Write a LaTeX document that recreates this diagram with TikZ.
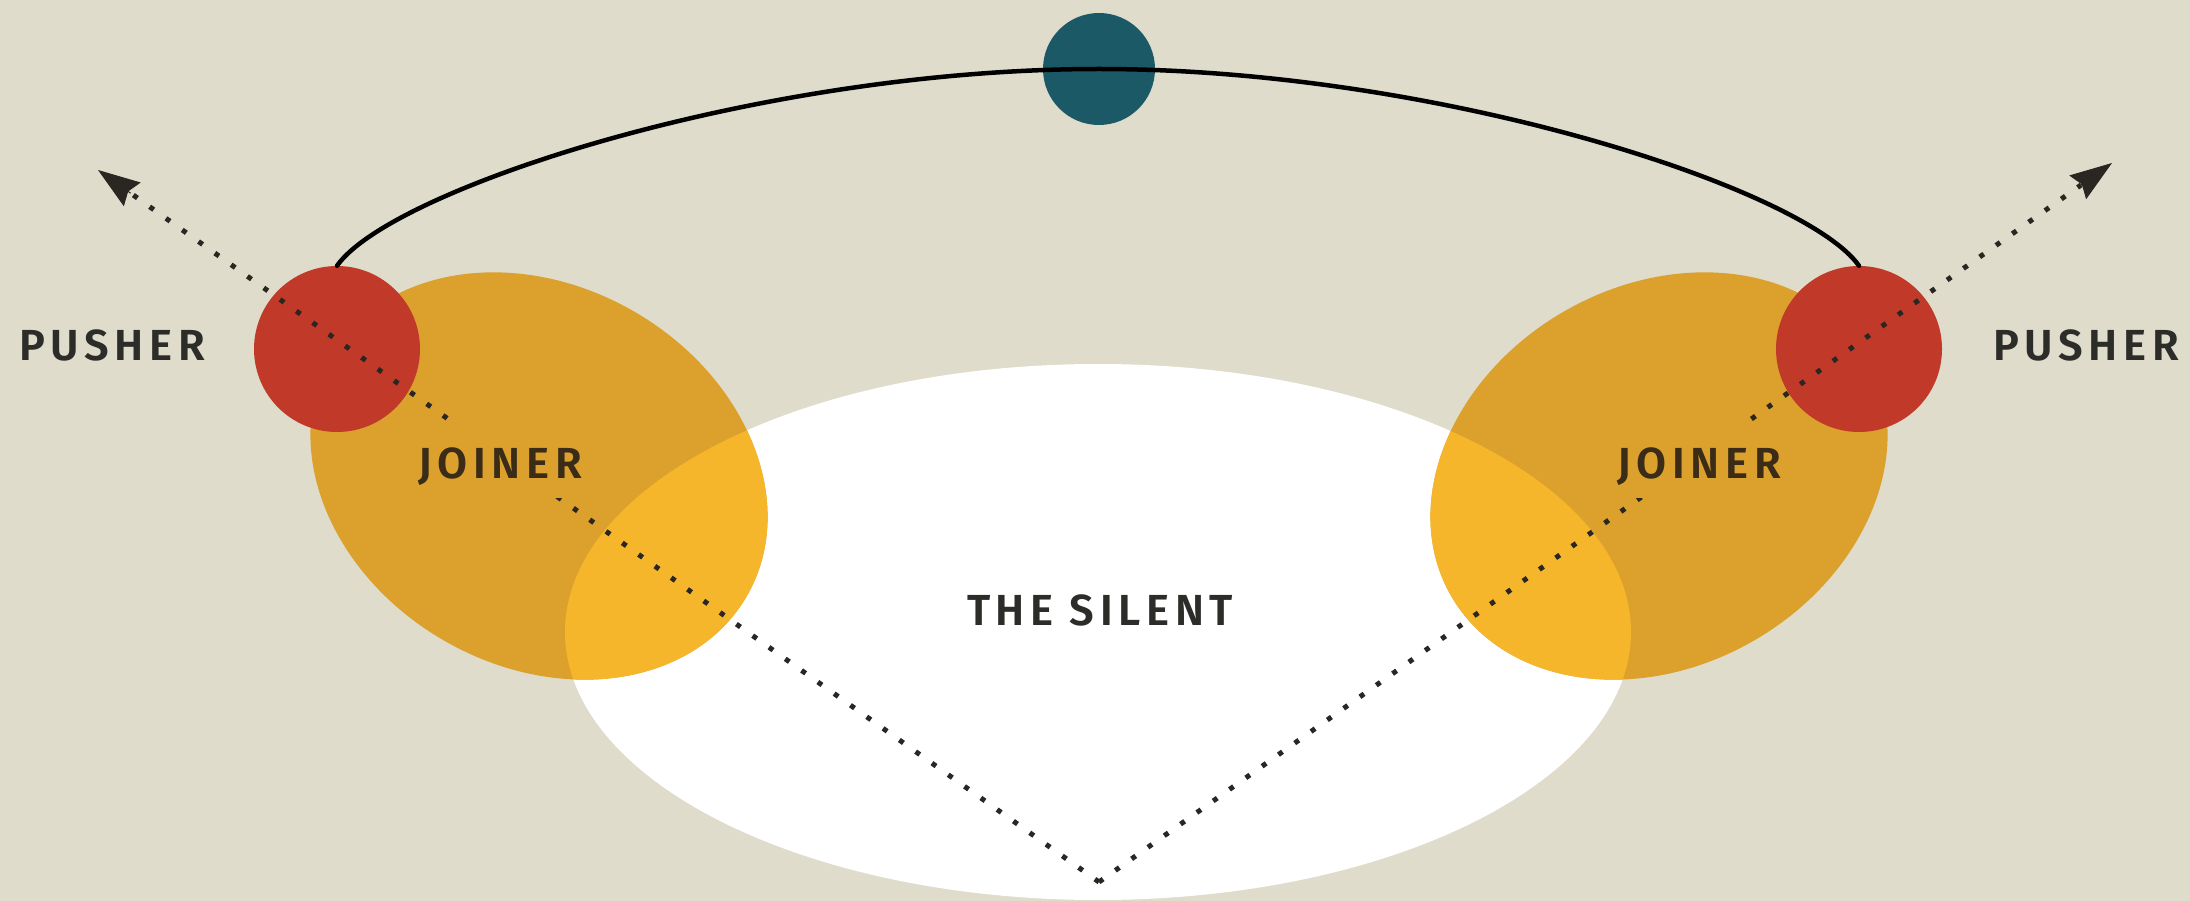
\documentclass[tikz,border=0pt]{standalone}
\usepackage{fontspec}
\setmainfont{Fira Sans}
\newfontfamily\lblfont[LetterSpace=13, BoldFont={Fira Sans SemiBold}]{Fira Sans}
\usetikzlibrary{arrows.meta,calc}
\definecolor{bg}{HTML}{DFDCCB}
\definecolor{orangeD}{HTML}{DCA02D}
\definecolor{orangeL}{HTML}{F6B62C}
\definecolor{redc}{HTML}{C13A29}
\definecolor{tealc}{HTML}{1B5967}
\definecolor{txt}{HTML}{2C2C29}
\definecolor{txtj}{HTML}{3A2C17}
\definecolor{dotc}{HTML}{2A2622}
\begin{document}
\begin{tikzpicture}[x=1pt,y=-1pt,
  lbl/.style={font=\lblfont\bfseries\fontsize{43.5}{43.5}\selectfont, text=txt, inner sep=0pt,
    text height=30pt, text depth=0pt},
  joinlbl/.style={lbl, text=txtj, fill=orangeD, minimum height=77pt, inner xsep=4pt,
    text height=38pt},
  ball/.style={circle, inner sep=0pt, minimum size=#1},
  pushball/.style={ball=166pt, fill=redc},
  arcline/.style={draw=black, line width=4.5pt, line cap=round},
  dotline/.style={draw=dotc, line width=5pt, dash pattern=on 5pt off 15pt, shorten >=38pt},
  headline/.style={draw=dotc, line width=1pt, -{Stealth[length=42pt,width=29pt,inset=5pt]}}
]
\useasboundingbox (0,0) rectangle (2190,901);
\clip (0,0) rectangle (2190,901);
\fill[bg] (0,0) rectangle (2190,901);
% the silent field
\fill[white] (1098,632) ellipse [x radius=533pt, y radius=268pt];
% joiner fields
\fill[orangeD, rotate around={-30:(539,476)}] (539,476) ellipse [x radius=240pt, y radius=190pt];
\fill[orangeD, rotate around={30:(1659,476)}] (1659,476) ellipse [x radius=240pt, y radius=190pt];
\begin{scope}
  \clip (1098,632) ellipse [x radius=533pt, y radius=268pt];
  \fill[orangeL, rotate around={-30:(539,476)}] (539,476) ellipse [x radius=240pt, y radius=190pt];
  \fill[orangeL, rotate around={30:(1659,476)}] (1659,476) ellipse [x radius=240pt, y radius=190pt];
\end{scope}
% pushers and the top ball
\node[pushball] (pushL) at (337,349) {};
\node[pushball] (pushR) at (1859,349) {};
\node[ball=112pt, fill=tealc] (top) at (1099,69) {};
% arc
\draw[arcline] (pushL.north) .. controls +(54,-77) and (760,69) .. (top.center)
  .. controls (1438,69) and ($(pushR.north)+(-54,-77)$) .. (pushR.north);
% dotted directions
\coordinate (vertex) at (1099,882);
\coordinate (tipL) at (98,170);
\coordinate (tipR) at (2112,163);
\draw[dotline] (vertex) -- (tipL);
\draw[dotline] (vertex) -- (tipR);
\draw[headline] ($(tipL)!40pt!(vertex)$) -- (tipL);
\draw[headline] ($(tipR)!40pt!(vertex)$) -- (tipR);
% labels
\node[joinlbl] (joinL) at (500,459) {JOINER};
\node[joinlbl] (joinR) at (1699,459) {JOINER};
\node[lbl] (pushLtxt) at (112,345) {PUSHER};
\node[lbl] (pushRtxt) at (2086,345) {PUSHER};
\node[lbl] (silent) at (1100,610) {THE SILENT};
\end{tikzpicture}
\end{document}
